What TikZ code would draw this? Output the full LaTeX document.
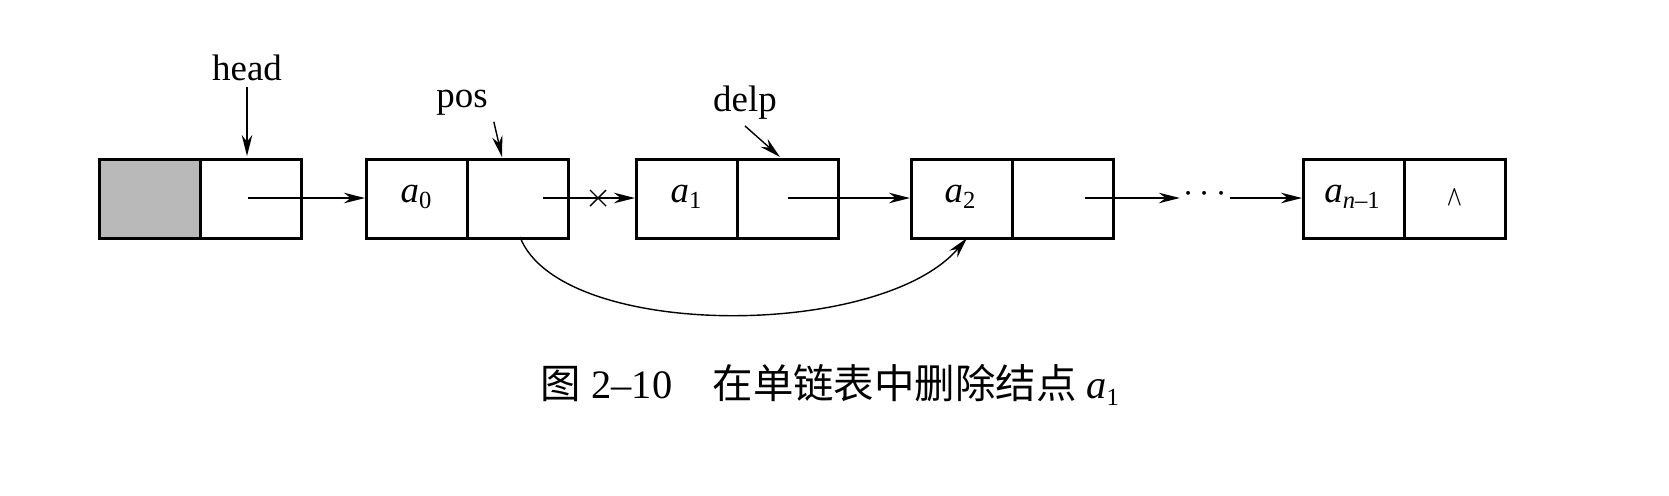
\documentclass[tikz,border=0pt]{standalone}
\usepackage{fontspec}
\setmainfont{Liberation Serif}
\newfontfamily\cjk{Noto Sans CJK SC}
\usetikzlibrary{arrows.meta,calc}
\newcommand{\ita}[1]{\textit{a}\raisebox{-0.35ex}{\fontsize{14}{16}\selectfont #1}}
\begin{document}
\begin{tikzpicture}[x=0.02cm,y=-0.02cm,
  cell/.style={draw,line width=1.6pt,minimum width=4.04cm,minimum height=1.58cm,inner sep=0pt,anchor=north west},
  lbl/.style={font=\fontsize{21}{24}\selectfont},
  ptr/.style={-{Stealth[length=12pt,width=6pt]},line width=0.8pt}]
\useasboundingbox (0,0) rectangle (1669,495);
\fill[gray!55] (98,158) rectangle (202,237);
\foreach \n/\x in {n0/98,n1/365,n2/635,n3/910,n4/1302}{
  \node[cell] (\n) at (\x,158) {};
  \draw[line width=1.6pt] ($(\n.north west)!0.5!(\n.north east)$) -- ($(\n.south west)!0.5!(\n.south east)$);
}
\node[lbl] (t1) at (416,197) {\ita{0}};
\node[lbl] (t2) at (686,197) {\ita{1}};
\node[lbl] (t3) at (960,197) {\ita{2}};
\node[lbl] (t4) at (1352,197) {\textit{a}\raisebox{-0.35ex}{\fontsize{14}{16}\selectfont\textit{n}--1}};
\node[lbl] (t5) at (1455,197) {$\bigwedge$};
\coordinate (p0) at (248,198);
\coordinate (p1) at (543,198);
\coordinate (p2) at (788,198);
\coordinate (p3) at (1085,198);
\node[lbl,inner sep=2pt] (dots) at (1205,194) {\textbf{$\cdots$}};
\draw[ptr] (p0) -- (n1.west |- p0);
\draw[ptr] (p1) -- (n2.west |- p1);
\draw[line width=0.8pt] (590,190) -- (606,206) (590,206) -- (606,190);
\draw[ptr] (p2) -- (n3.west |- p2);
\draw[ptr] (p3) -- (dots.west |- p3);
\draw[ptr] (dots.east |- p3) -- (n4.west |- p3);
\node[lbl] (head) at (247,68) {head};
\coordinate (h) at (247,156);
\draw[ptr] (head.south) -- (h);
\node[lbl] (pos) at (462,103) {pos};
\coordinate (ps) at (502,157);
\draw[ptr] (pos.south east) -- (ps);
\node[lbl] (delp) at (745,103) {delp};
\coordinate (dp) at (780,157);
\draw[ptr] (delp.south) -- (dp);
\coordinate (c0) at (520,237);
\coordinate (c1) at (967,238);
\draw[ptr] (c0) .. controls (560,340) and (880,340) .. (c1);
\node[font=\fontsize{23}{26}\selectfont] (cap) at (830,385) {{\cjk 图} 2--10\quad{\cjk 在单链表中删除结点} \ita{1}};
\end{tikzpicture}
\end{document}
